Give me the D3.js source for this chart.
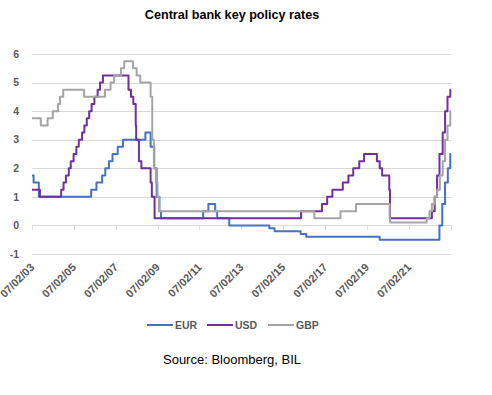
<!DOCTYPE html>
<html>
<head>
<meta charset="utf-8">
<script src="https://cdn.jsdelivr.net/npm/d3@7"></script>
<style>
    body { margin: 0; background: #fff; }
    text { font-family: "Liberation Sans", Arial, sans-serif; }
</style>
</head>
<body>
<svg id="chart" width="492" height="395"></svg>
<script>
// policy rate changes (date of change, new rate in %)
var eurDates = ["2003-02-07", "2003-03-07", "2003-06-06", "2005-12-06", "2006-03-08", "2006-06-15",
    "2006-08-09", "2006-10-11", "2006-12-13", "2007-03-14", "2007-06-13", "2008-07-09", "2008-10-08",
    "2008-11-12", "2008-12-10", "2009-01-21", "2009-03-11", "2009-04-08", "2011-04-13", "2011-07-13",
    "2011-11-09", "2011-12-14", "2012-07-11", "2014-06-11", "2014-09-10", "2015-12-09", "2016-03-16",
    "2019-09-18", "2022-07-27", "2022-09-14", "2022-11-02", "2022-12-21", "2023-02-01"];
var eurValues = [1.75, 1.5, 1.0, 1.25, 1.5, 1.75, 2.0, 2.25, 2.5, 2.75, 3.0, 3.25, 2.75,
    2.75, 2.0, 1.0, 0.5, 0.25, 0.5, 0.75, 0.5, 0.25, 0.0, -0.1, -0.2, -0.3, -0.4,
    -0.5, 0.0, 0.75, 1.5, 2.0, 2.5];

var usdDates = ["2003-02-07", "2003-06-25", "2004-06-30", "2004-08-10", "2004-09-21", "2004-11-10",
    "2004-12-14", "2005-02-02", "2005-03-22", "2005-05-03", "2005-06-30", "2005-08-09", "2005-09-20",
    "2005-11-01", "2005-12-13", "2006-01-31", "2006-03-28", "2006-05-10", "2006-06-29", "2007-09-18",
    "2007-10-31", "2007-12-11", "2008-01-22", "2008-01-30", "2008-03-18", "2008-04-30", "2008-10-08",
    "2008-10-29", "2008-12-16", "2015-12-17", "2016-12-15", "2017-03-16", "2017-06-15", "2017-12-14",
    "2018-03-22", "2018-06-14", "2018-09-27", "2018-12-20", "2019-08-01", "2019-09-19", "2019-10-31",
    "2020-03-04", "2020-03-16", "2022-03-17", "2022-05-05", "2022-06-16", "2022-07-28", "2022-09-22",
    "2022-11-03", "2022-12-15", "2023-02-02"];
var usdValues = [1.25, 1.0, 1.25, 1.5, 1.75, 2.0, 2.25, 2.5, 2.75, 3.0, 3.25, 3.5, 3.75,
    4.0, 4.25, 4.5, 4.75, 5.0, 5.25, 4.75, 4.5, 4.25, 3.5, 3.0, 2.25, 2.0, 1.5,
    1.0, 0.25, 0.5, 0.75, 1.0, 1.25, 1.5, 1.75, 2.0, 2.25, 2.5, 2.25, 2.0, 1.75,
    1.25, 0.25, 0.5, 1.0, 1.75, 2.5, 3.25, 4.0, 4.5, 4.75];

var gbpDates = ["2003-02-07", "2003-07-10", "2003-11-06", "2004-02-05", "2004-05-06", "2004-06-10",
    "2004-08-05", "2005-08-04", "2006-08-03", "2006-11-09", "2007-01-11", "2007-05-10", "2007-07-05",
    "2007-12-06", "2008-02-07", "2008-04-10", "2008-10-08", "2008-11-06", "2008-12-04", "2009-01-08",
    "2009-02-05", "2009-03-05", "2016-08-04", "2017-11-02", "2018-08-02", "2020-03-11", "2020-03-19",
    "2021-12-16", "2022-02-03", "2022-03-17", "2022-05-05", "2022-06-16", "2022-08-04", "2022-09-22",
    "2022-11-03", "2022-12-15", "2023-02-02"];
var gbpValues = [3.75, 3.5, 3.75, 4.0, 4.25, 4.5, 4.75, 4.5, 4.75, 5.0, 5.25, 5.5, 5.75,
    5.5, 5.25, 5.0, 4.5, 3.0, 2.0, 1.5, 1.0, 0.5, 0.25, 0.5, 0.75, 0.25, 0.1,
    0.25, 0.5, 0.75, 1.0, 1.25, 1.75, 2.25, 3.0, 3.5, 4.0];

var startDate = "2003-02-07", endDate = "2023-02-14";
var tickDates = ["2003-02-07", "2005-02-07", "2007-02-07", "2009-02-07", "2011-02-07",
    "2013-02-07", "2015-02-07", "2017-02-07", "2019-02-07", "2021-02-07"];
var yTicks = [-1, 0, 1, 2, 3, 4, 5, 6];

var seriesNames = ["EUR", "USD", "GBP"];
var seriesColors = ["#4472C4", "#7030A0", "#A5A5A5"];

var parse = d3.timeParse("%Y-%m-%d");
var fmt = d3.timeFormat("%d/%m/%y");

function buildSeries(dates, values) {
    var pts = dates.map(function(d, i) { return { date: parse(d), value: values[i] }; });
    // hold the last rate to the end of the axis
    pts.push({ date: parse(endDate), value: values[values.length - 1] });
    return pts;
}

var series = [buildSeries(eurDates, eurValues), buildSeries(usdDates, usdValues), buildSeries(gbpDates, gbpValues)];

var svg = d3.select("#chart");
var margin = { left: 32, right: 41, top: 54, bottom: 141 };
var W = 492, H = 395;

var x = d3.scaleTime()
    .domain([parse(startDate), parse(endDate)])
    .range([margin.left, W - margin.right]);
var y = d3.scaleLinear()
    .domain([-1, 6])
    .range([254, 54]);

// title
svg.append("text")
    .attr("x", 232).attr("y", 19)
    .attr("text-anchor", "middle")
    .attr("font-size", "12.6px").attr("font-weight", "bold")
    .attr("fill", "#000")
    .text("Central bank key policy rates");

// gridlines
svg.append("g")
    .selectAll("line")
    .data(yTicks)
    .enter().append("line")
    .attr("x1", margin.left).attr("x2", W - margin.right)
    .attr("y1", function(d) { return Math.round(y(d)) + 0.5; })
    .attr("y2", function(d) { return Math.round(y(d)) + 0.5; })
    .attr("stroke", "#D9D9D9").attr("stroke-width", 1);

// y labels
svg.append("g")
    .selectAll("text")
    .data(yTicks)
    .enter().append("text")
    .attr("x", 19).attr("y", function(d) { return y(d); })
    .attr("dy", "0.35em")
    .attr("text-anchor", "end")
    .attr("font-size", "10.5px").attr("font-weight", "bold")
    .attr("fill", "#595959")
    .text(function(d) { return d; });

// x tick marks on the zero line
var zeroY = Math.round(y(0)) + 0.5;
svg.append("g")
    .selectAll("line")
    .data(tickDates.concat([endDate]))
    .enter().append("line")
    .attr("x1", function(d) { return Math.round(x(parse(d))) + 0.5; })
    .attr("x2", function(d) { return Math.round(x(parse(d))) + 0.5; })
    .attr("y1", zeroY).attr("y2", zeroY + 4)
    .attr("stroke", "#D9D9D9");

// x labels (low position, rotated)
svg.append("g")
    .selectAll("text")
    .data(tickDates)
    .enter().append("text")
    .attr("transform", function(d) { return "translate(" + (x(parse(d)) + 3) + ",268) rotate(-45)"; })
    .attr("text-anchor", "end")
    .attr("font-size", "11px").attr("font-weight", "bold")
    .attr("fill", "#595959")
    .text(function(d) { return fmt(parse(d)); });

// lines
var line = d3.line()
    .curve(d3.curveStepAfter)
    .x(function(d) { return x(d.date); })
    .y(function(d) { return y(d.value); });

svg.append("g")
    .selectAll("path")
    .data(series)
    .enter().append("path")
    .attr("d", line)
    .attr("fill", "none")
    .attr("stroke", function(d, i) { return seriesColors[i]; })
    .attr("stroke-width", 2)
    .attr("stroke-linejoin", "round");

// legend
var legendX = [147, 207, 268];
var lg = svg.append("g")
    .selectAll("g")
    .data(seriesNames)
    .enter().append("g")
    .attr("transform", function(d, i) { return "translate(" + legendX[i] + ",325)"; });
lg.append("line")
    .attr("x1", 0).attr("x2", 26)
    .attr("stroke", function(d, i) { return seriesColors[i]; })
    .attr("stroke-width", 2);
lg.append("text")
    .attr("x", 28).attr("dy", "0.35em")
    .attr("font-size", "10.5px").attr("font-weight", "bold")
    .attr("fill", "#595959")
    .text(function(d) { return d; });

// source
svg.append("text")
    .attr("x", 232).attr("y", 364)
    .attr("text-anchor", "middle")
    .attr("font-size", "13px")
    .attr("fill", "#000")
    .text("Source: Bloomberg, BIL");
</script>
</body>
</html>
